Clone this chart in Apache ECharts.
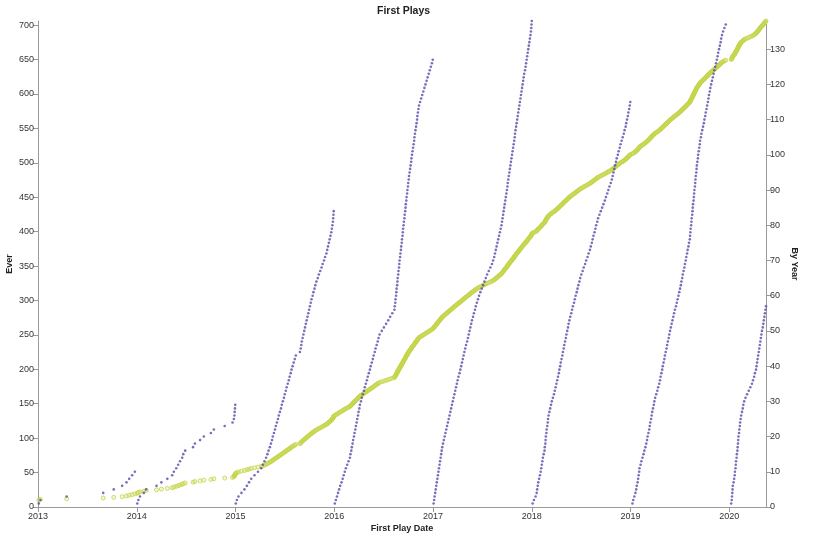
<!DOCTYPE html>
<html><head><meta charset="utf-8">
<script src="https://cdn.jsdelivr.net/npm/echarts@6/dist/echarts.min.js"></script>
<style>html,body{margin:0;padding:0;background:#fff}#c{width:820px;height:537px}</style>
</head><body><div id="c"></div>
<script>
// Games first played before 2013 (off the left edge of the chart)
const playedBefore2013 = 9;

// Day of year of each first play, per year
const days2013 = [3, 9, 106, 241, 280, 311, 327, 337, 348, 358];
const days2014 = [2, 6, 12, 26, 35, 73, 91, 113, 131, 137, 146, 153, 160, 168, 172, 179, 208, 215, 234, 248, 274, 285, 325, 354, 359, 361, 362, 363, 364];
const days2015 = [1,5,11,22,33,42,50,58,70,83,95,101,107,113,118,122,127,131,135,138,142,146,149,153,157,160,164,168,171,175,179,182,186,189,193,197,200,204,207,211,215,219,223,238,241,243,245,248,251,254,257,260,263,266,269,272,275,278,281,285,288,292,295,299,304,308,313,318,322,327,331,336,339,342,345,348,351,354,356,358,360,361,362,363];
const days2016 = [2,6,10,14,18,22,27,31,35,39,43,48,53,58,60,63,65,68,70,73,75,78,80,83,85,88,90,93,95,99,102,106,110,113,117,121,124,128,132,135,139,143,146,150,153,157,161,164,168,176,184,192,200,207,215,223,224,226,227,229,230,231,233,234,235,237,238,240,241,242,244,245,247,248,250,251,253,254,255,257,258,260,261,263,264,265,267,268,270,271,273,274,276,277,279,281,283,285,286,288,290,292,294,296,297,299,301,303,305,307,308,310,312,314,318,322,326,330,334,338,342,346,350,354,358,362,365];
const days2017 = [2,4,6,8,10,12,14,16,18,20,22,24,26,28,30,32,34,37,40,43,46,49,52,55,58,61,64,67,70,73,76,79,82,85,88,91,94,98,101,104,107,110,113,116,119,122,126,129,132,135,138,141,144,148,151,155,158,162,166,170,175,180,185,190,195,200,206,212,218,222,226,229,232,235,238,241,244,247,250,253,255,257,259,261,263,265,267,269,271,273,275,276,278,280,282,284,286,288,290,292,294,296,298,300,302,303,305,307,309,311,313,315,317,319,321,323,325,327,329,331,333,335,337,340,342,344,346,348,350,352,354,356,358,360,362,363,364,365];
const days2018 = [3,8,14,18,20,22,24,27,30,33,35,37,39,41,44,47,48,50,51,52,54,55,57,59,60,62,65,68,71,74,78,82,85,88,91,94,97,100,102,105,107,110,113,115,118,120,123,126,128,131,134,136,139,142,146,149,152,156,159,162,166,169,172,176,179,183,188,192,197,201,206,210,215,218,222,225,228,232,235,238,242,245,250,255,260,265,270,274,279,283,287,292,296,299,302,305,308,311,314,318,321,325,328,332,336,340,343,347,349,352,355,357,360,362,364];
const days2019 = [7,10,14,18,21,23,26,28,30,32,33,37,40,44,48,51,55,58,61,63,66,69,71,73,76,78,80,83,86,88,91,95,99,102,106,109,111,114,117,119,122,125,127,130,133,135,138,141,143,146,149,152,155,158,161,164,168,171,174,177,180,183,186,188,191,193,196,199,201,204,206,209,211,214,216,219,220,221,222,224,225,226,228,229,230,231,233,234,235,236,238,239,240,241,243,244,245,247,249,250,252,254,256,257,260,262,265,268,271,273,276,278,281,283,286,288,290,293,295,298,301,304,307,310,313,316,319,322,324,327,330,333,335,338,342,347,352];
const days2020 = [7,9,10,11,12,13,16,18,20,21,23,24,25,27,28,30,31,32,33,34,36,37,39,40,42,44,47,50,52,55,60,66,72,78,84,88,92,95,99,101,103,105,107,109,111,113,115,117,119,121,124,126,128,130,132,134,136];

const years = [2013, 2014, 2015, 2016, 2017, 2018, 2019, 2020];
const daysByYear = [days2013, days2014, days2015, days2016, days2017, days2018, days2019, days2020];

// Axis tick labels
const dateTicks = [2013, 2014, 2015, 2016, 2017, 2018, 2019, 2020];
const everTicks = [0, 50, 100, 150, 200, 250, 300, 350, 400, 450, 500, 550, 600, 650, 700];
const byYearTicks = [0, 10, 20, 30, 40, 50, 60, 70, 80, 90, 100, 110, 120, 130];

// Build both series from the play dates
const everData = [];
const byYearData = [];
let running = playedBefore2013;
years.forEach((y, k) => {
  const len = (y % 4 === 0) ? 366 : 365;
  daysByYear[k].forEach((d, i) => {
    const x = y + d / len;
    running += 1;
    everData.push([x, running]);
    byYearData.push([x, i + 1]);
  });
});

const FONT = '"Liberation Sans", Arial, sans-serif';
const axisCol = '#9a9a9a';
const labelStyle = { fontSize: 9, color: '#333', fontFamily: FONT };
const nameStyle = { fontSize: 9, fontWeight: 'bold', color: '#222', fontFamily: FONT };

const chart = echarts.init(document.getElementById('c'), null, { renderer: 'canvas' });
chart.setOption({
  animation: false,
  backgroundColor: '#fff',
  title: {
    text: 'First Plays', left: 372, top: 1,
    textStyle: { fontSize: 10.5, fontWeight: 'bold', color: '#222', fontFamily: FONT }
  },
  grid: { left: 38, right: 54, top: 21, bottom: 30, containLabel: false, outerBoundsMode: 'none' },
  xAxis: {
    type: 'value', min: 2013, max: 'dataMax',
    name: 'First Play Date', nameLocation: 'middle', nameGap: 17, nameMoveOverlap: false, nameTextStyle: nameStyle,
    axisLine: { onZero: false, lineStyle: { color: axisCol } },
    axisTick: { customValues: dateTicks, length: 5, lineStyle: { color: axisCol } },
    axisLabel: Object.assign({ customValues: dateTicks, margin: 5, formatter: v => String(Math.round(v)) }, labelStyle),
    splitLine: { show: false }
  },
  yAxis: [{
    type: 'value', min: 0, max: 'dataMax', position: 'left',
    name: 'Ever', nameLocation: 'middle', nameGap: 24, nameMoveOverlap: false, nameTextStyle: nameStyle,
    axisLine: { show: true, lineStyle: { color: axisCol } },
    axisTick: { show: true, customValues: everTicks, length: 5, lineStyle: { color: axisCol } },
    axisLabel: Object.assign({ customValues: everTicks, margin: 4 }, labelStyle),
    splitLine: { show: false }
  }, {
    type: 'value', min: 0, max: 'dataMax', position: 'right',
    name: 'By Year', nameLocation: 'middle', nameGap: 24, nameRotate: -90, nameMoveOverlap: false, nameTextStyle: nameStyle,
    axisLine: { show: true, lineStyle: { color: axisCol } },
    axisTick: { show: true, customValues: byYearTicks, length: 5, lineStyle: { color: axisCol } },
    axisLabel: Object.assign({ customValues: byYearTicks, margin: 4 }, labelStyle),
    splitLine: { show: false }
  }],
  series: [{
    name: 'Ever', type: 'scatter', yAxisIndex: 0, data: everData,
    symbol: 'circle', symbolSize: 4,
    itemStyle: { color: 'rgba(205,218,90,0.3)', borderColor: '#c4d548', borderWidth: 1 },
    z: 2
  }, {
    name: 'By Year', type: 'scatter', yAxisIndex: 1, data: byYearData,
    symbol: 'circle', symbolSize: 2.6,
    itemStyle: { color: '#5a4aa8' },
    z: 3
  }]
});
</script>
</body></html>
